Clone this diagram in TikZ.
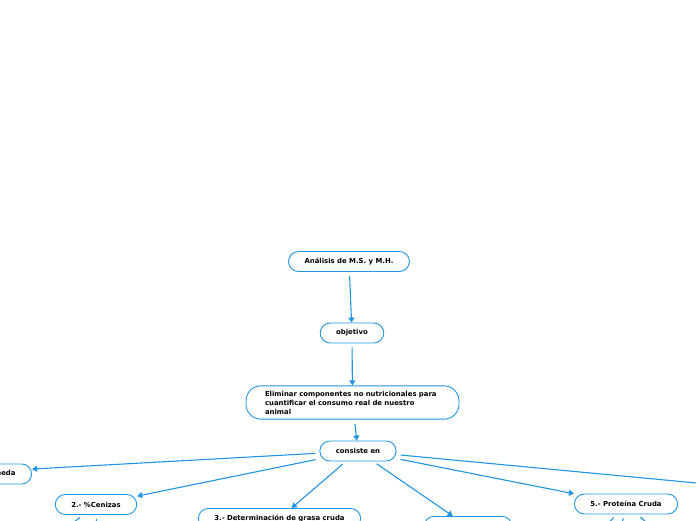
\documentclass[tikz,border=0pt]{standalone}
\usepackage{fontspec}
\setmainfont{DejaVu Sans}
\usetikzlibrary{arrows.meta}
\definecolor{mapblue}{RGB}{30,150,228}
\begin{document}
\begin{tikzpicture}[x=1pt,y=-1pt,
		topic/.style={draw=mapblue, line width=0.9pt, rounded corners=10pt, fill=white, minimum height=20pt, inner xsep=16pt, inner ysep=0pt, font=\fontsize{6.9}{9}\selectfont\bfseries},
		link/.style={draw=mapblue, line width=1.1pt, shorten <=4pt, -{Triangle[length=5pt,width=6pt]}}]
		\useasboundingbox (0,0) rectangle (696,520);
		\clip (0,0) rectangle (696,520);
		\fill[white] (0,0) rectangle (696,520);
		\node[topic] (ana) at (349,261.5) {Análisis de M.S. y M.H.};
		\node[topic] (obj) at (352,333) {objetivo};
		\node[topic, rounded corners=15pt, text width=175pt, align=left, inner xsep=19pt, inner ysep=5pt] (elim) at (352.5,402.5) {Eliminar componentes no nutricionales para\\ cuantificar el consumo real de nuestro\\ animal};
		\node[topic] (cons) at (358,451) {consiste en};
		\node[topic, anchor=east] (hum) at (32,474) {1.- \% Materia Seca y Materia Humeda};
		\node[topic] (cen) at (96,504.5) {2.- \%Cenizas};
		\node[topic, anchor=north] (gra) at (279.5,508) {3.- Determinación de grasa cruda};
		\node[topic, anchor=north, minimum width=88pt] (fib) at (468,516) {};
		\node[topic] (pro) at (626,504) {5.- Proteína Cruda};
		\coordinate (sext) at (760,489);
		\coordinate (cenA) at (50,541.5);
		\coordinate (cenB) at (97,545);
		\coordinate (proA) at (590,543);
		\coordinate (proB) at (619,540);
		\coordinate (proC) at (667,541);

		\draw[link] (ana) -- (obj);
		\draw[link] (obj) -- (elim);
		\draw[link] (elim) -- (cons);
		\draw[link] (cons) -- (hum);
		\draw[link] (cons) -- (cen);
		\draw[link] (cons) -- (gra);
		\draw[link] (cons) -- (fib);
		\draw[link] (cons) -- (pro);
		\draw[link] (cons) -- (sext);
		\draw[link] (cen) -- (cenA);
		\draw[link] (cen) -- (cenB);
		\draw[link] (pro) -- (proA);
		\draw[link] (pro) -- (proB);
		\draw[link] (pro) -- (proC);
	\end{tikzpicture}
\end{document}
